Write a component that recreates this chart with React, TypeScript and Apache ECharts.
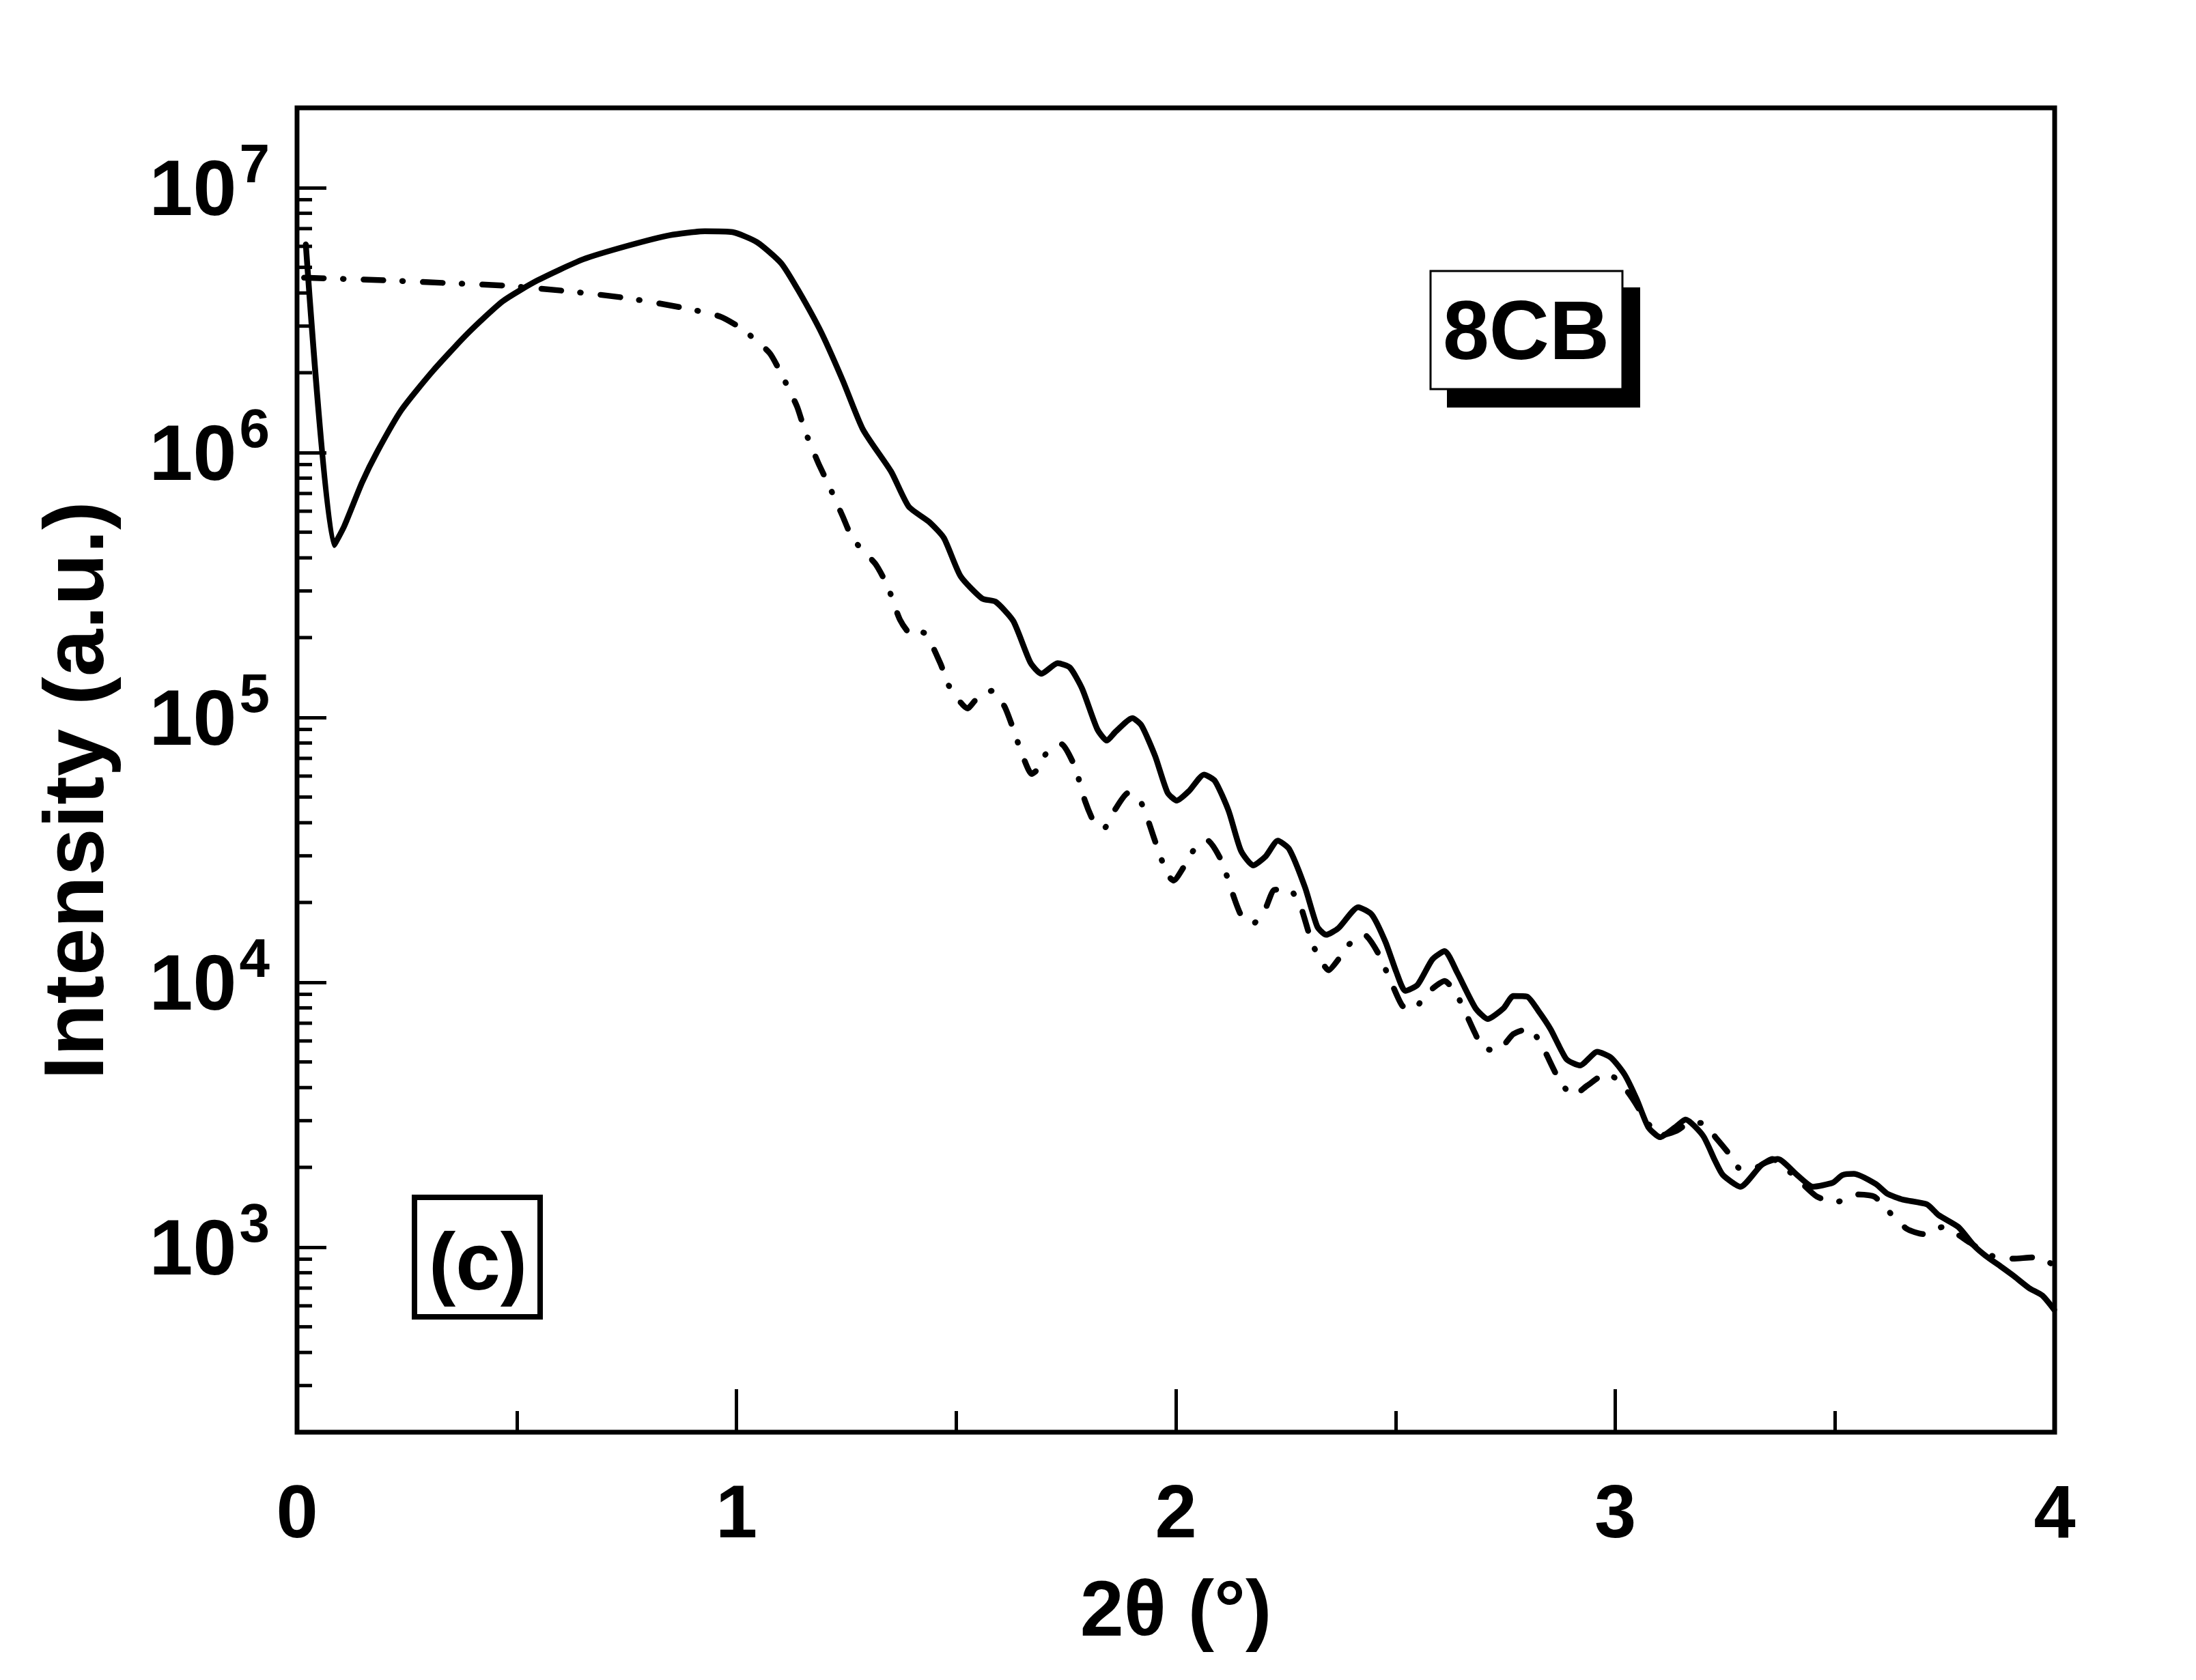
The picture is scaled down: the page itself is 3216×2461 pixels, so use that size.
import React, { useEffect, useRef } from "react";
import * as echarts from "echarts";

// ---- data ----
const solidTwoTheta = [
  0.02, 0.084, 0.107, 0.148, 0.183, 0.238, 0.309, 0.389, 0.468, 0.547, 0.651, 0.754, 0.848, 0.928, 0.991,
  1.047, 1.102, 1.142, 1.193, 1.242, 1.288, 1.352, 1.392, 1.439, 1.472, 1.51, 1.559, 1.59, 1.63, 1.669,
  1.694, 1.731, 1.759, 1.787, 1.821, 1.843, 1.863, 1.901, 1.922, 1.953, 1.981, 2.002, 2.03, 2.064, 2.089,
  2.12, 2.148, 2.176, 2.204, 2.232, 2.258, 2.294, 2.322, 2.342, 2.37, 2.415, 2.446, 2.477, 2.502, 2.522,
  2.55, 2.584, 2.612, 2.64, 2.682, 2.71, 2.746, 2.768, 2.799, 2.825, 2.853, 2.889, 2.92, 2.959, 2.991,
  3.022, 3.049, 3.075, 3.102, 3.137, 3.16, 3.2, 3.227, 3.245, 3.285, 3.334, 3.37, 3.414, 3.45, 3.495,
  3.517, 3.543, 3.593, 3.619, 3.655, 3.709, 3.736, 3.781, 3.817, 3.843, 3.879, 3.906, 3.942, 3.972, 3.999,
];
const solidIntensity = [
  6.1e6, 4.47e5, 5.25e5, 7.7e5, 1.01e6, 1.45e6, 2.03e6, 2.82e6, 3.72e6, 4.46e6, 5.36e6, 6.04e6, 6.61e6, 6.84e6, 6.79e6,
  6.22e6, 5.18e6, 4.06e6, 2.84e6, 1.87e6, 1.22e6, 8.47e5, 6.25e5, 5.46e5, 4.76e5, 3.41e5, 2.81e5, 2.73e5, 2.31e5, 1.61e5,
  1.46e5, 1.6e5, 1.54e5, 1.28e5, 9.04e4, 8.17e4, 8.83e4, 9.93e4, 9.31e4, 7.13e4, 5.2e4, 4.85e4, 5.27e4, 6.08e4, 5.75e4,
  4.44e4, 3.14e4, 2.76e4, 2.98e4, 3.42e4, 3.18e4, 2.28e4, 1.62e4, 1.51e4, 1.6e4, 1.92e4, 1.8e4, 1.42e4, 1.09e4, 9.27e3,
  9.77e3, 1.22e4, 1.31e4, 1.09e4, 7.98e3, 7.26e3, 7.98e3, 8.87e3, 8.83e3, 7.8e3, 6.64e3, 5.12e3, 4.85e3, 5.46e3, 5.18e3,
  4.46e3, 3.61e3, 2.84e3, 2.6e3, 2.84e3, 3.03e3, 2.63e3, 2.12e3, 1.87e3, 1.69e3, 2.05e3, 2.15e3, 1.87e3, 1.69e3, 1.75e3,
  1.87e3, 1.89e3, 1.73e3, 1.59e3, 1.51e3, 1.45e3, 1.32e3, 1.19e3, 1.01e3, 927, 841, 780, 700, 656, 580,
];

const dashTwoTheta = [
  0.016, 0.207, 0.342, 0.476, 0.618, 0.754, 0.889, 0.963, 1.011, 1.075, 1.102, 1.138, 1.155, 1.186, 1.209,
  1.242, 1.265, 1.316, 1.344, 1.372, 1.4, 1.425, 1.464, 1.483, 1.526, 1.546, 1.582, 1.61, 1.63, 1.646,
  1.672, 1.686, 1.706, 1.739, 1.77, 1.793, 1.815, 1.837, 1.86, 1.891, 1.921, 1.953, 1.981, 1.995, 2.019,
  2.04, 2.071, 2.103, 2.134, 2.151, 2.177, 2.204, 2.224, 2.258, 2.283, 2.312, 2.348, 2.37, 2.39, 2.429,
  2.46, 2.494, 2.516, 2.542, 2.57, 2.612, 2.64, 2.681, 2.699, 2.732, 2.768, 2.803, 2.83, 2.873, 2.904,
  2.937, 2.98, 3.009, 3.04, 3.066, 3.1, 3.14, 3.17, 3.2, 3.232, 3.26, 3.285, 3.325, 3.357, 3.405,
  3.459, 3.504, 3.55, 3.59, 3.619, 3.664, 3.7, 3.745, 3.807, 3.85, 3.906, 3.951, 3.986, 4.0,
];
const dashIntensity = [
  4.57e6, 4.46e6, 4.36e6, 4.26e6, 4.06e6, 3.82e6, 3.49e6, 3.26e6, 2.94e6, 2.38e6, 1.98e6, 1.49e6, 1.22e6, 9.14e5, 7.6e5,
  5.73e5, 4.71e5, 3.8e5, 3.13e5, 2.34e5, 2.04e5, 2.09e5, 1.6e5, 1.32e5, 1.08e5, 1.17e5, 1.26e5, 1.1e5, 9.04e4, 7.57e4,
  6.11e4, 6.37e4, 7.35e4, 7.93e4, 6.52e4, 4.85e4, 3.99e4, 3.82e4, 4.44e4, 5.18e4, 4.76e4, 3.4e4, 2.54e4, 2.42e4, 2.74e4,
  3.14e4, 3.44e4, 2.89e4, 2.05e4, 1.76e4, 1.67e4, 1.9e4, 2.23e4, 2.24e4, 1.95e4, 1.38e4, 1.11e4, 1.22e4, 1.37e4, 1.51e4,
  1.29e4, 9.66e3, 8.13e3, 7.93e3, 9.04e3, 1.01e4, 8.93e3, 6.41e3, 5.65e3, 5.52e3, 6.37e3, 6.68e3, 5.9e3, 4.26e3, 3.73e3,
  4.08e3, 4.52e3, 4.23e3, 3.62e3, 3.09e3, 2.63e3, 2.75e3, 2.95e3, 2.93e3, 2.55e3, 2.24e3, 1.97e3, 2.01e3, 2.15e3, 1.87e3,
  1.55e3, 1.48e3, 1.58e3, 1.55e3, 1.38e3, 1.17e3, 1.12e3, 1.19e3, 1.04e3, 933, 904, 914, 877, 851,
];

const xTickValues = [0, 1, 2, 3, 4];
const yDecadeExponents = [3, 4, 5, 6, 7];
const minorDecades = [100, 1000, 10000, 100000, 1000000];
const minorMultipliers = [2, 3, 4, 5, 6, 7, 8, 9];

const FONT = '"Liberation Sans", Arial, Helvetica, sans-serif';

export default function App() {
  const ref = useRef<HTMLDivElement>(null);

  useEffect(() => {
    document.body.style.margin = "0";
    document.body.style.overflow = "hidden";
    if (!ref.current) return;
    const chart = echarts.init(ref.current, undefined, { renderer: "svg" });

    const solidData = solidTwoTheta.map((x, i) => [x, solidIntensity[i]]);
    const dashData = dashTwoTheta.map((x, i) => [x, dashIntensity[i]]);
    const minorTickData: number[][] = [];
    minorDecades.forEach((d) => minorMultipliers.forEach((m) => minorTickData.push([0, d * m])));

    chart.setOption({
      animation: false,
      backgroundColor: "#fff",
      grid: {
        left: 435,
        right: 207,
        top: 158,
        bottom: 363,
        show: true,
        borderColor: "#000",
        borderWidth: 7,
        backgroundColor: "transparent",
      },
      xAxis: {
        type: "value",
        min: xTickValues[0],
        max: xTickValues[xTickValues.length - 1],
        interval: 1,
        axisLine: { show: false },
        splitLine: { show: false },
        axisTick: { show: true, inside: true, length: 63, lineStyle: { color: "#000", width: 5 } },
        minorTick: { show: true, splitNumber: 2, length: 31, lineStyle: { color: "#000", width: 5 } },
        axisLabel: {
          color: "#000",
          fontSize: 110,
          fontWeight: "bold",
          fontFamily: FONT,
          margin: 60,
        },
        name: "2θ (°)",
        nameLocation: "middle",
        nameGap: 200,
        nameTextStyle: { color: "#000", fontSize: 115, fontWeight: "bold", fontFamily: FONT },
      },
      yAxis: {
        type: "log",
        logBase: 10,
        min: 200,
        max: 2e7,
        axisLine: { show: false },
        splitLine: { show: false },
        axisTick: { show: true, inside: true, length: 43, lineStyle: { color: "#000", width: 5 } },
        axisLabel: {
          margin: 40,
          formatter: (v: number) => {
            const e = Math.round(Math.log10(v) * 1000) / 1000;
            if (Number.isInteger(e) && yDecadeExponents.includes(e)) return `{b|10}{s|${e}}`;
            return "";
          },
          rich: {
            b: { fontSize: 115, fontWeight: "bold", fontFamily: FONT, color: "#000", lineHeight: 150 },
            s: {
              fontSize: 80,
              fontWeight: "bold",
              fontFamily: FONT,
              color: "#000",
              lineHeight: 80,
              verticalAlign: "top",
              padding: [0, 0, 0, 4],
            },
          },
        },
        name: "Intensity (a.u.)",
        nameLocation: "middle",
        nameGap: 265,
        nameRotate: 90,
        nameTextStyle: {
          color: "#000",
          fontSize: 125,
          fontWeight: "bold",
          fontFamily: FONT,
          padding: [0, 60, 0, 0],
        },
      },
      series: [
        {
          type: "line",
          name: "solid",
          data: solidData,
          showSymbol: false,
          smooth: 0.2,
          lineStyle: { color: "#000", width: 8.5, cap: "round", join: "round" },
          z: 3,
        },
        {
          type: "line",
          name: "dashdot",
          data: dashData,
          showSymbol: false,
          smooth: 0.2,
          lineStyle: { color: "#000", width: 8.5, type: [29, 28, 1, 29], cap: "round", join: "round" },
          z: 3,
        },
        {
          type: "custom",
          name: "minorTicks",
          data: minorTickData,
          silent: true,
          clip: false,
          z: 4,
          renderItem: (params: any, api: any) => {
            const p = api.coord([api.value(0), api.value(1)]);
            return {
              type: "line",
              shape: { x1: p[0], y1: p[1], x2: p[0] + 22, y2: p[1] },
              style: { stroke: "#000", lineWidth: 5 },
            };
          },
        },
      ],
      graphic: [
        { type: "rect", shape: { x: 2119, y: 421, width: 283, height: 176 }, style: { fill: "#000" }, z: 10 },
        {
          type: "rect",
          shape: { x: 2095, y: 397, width: 281, height: 173 },
          style: { fill: "#fff", stroke: "#000", lineWidth: 3 },
          z: 11,
        },
        {
          type: "text",
          x: 2235,
          y: 484,
          z: 12,
          style: {
            text: "8CB",
            font: `bold 122px ${FONT}`,
            fill: "#000",
            align: "center",
            verticalAlign: "middle",
          },
        },
        {
          type: "rect",
          shape: { x: 607, y: 1754, width: 184, height: 175 },
          style: { fill: "#fff", stroke: "#000", lineWidth: 8 },
          z: 11,
        },
        {
          type: "text",
          x: 700,
          y: 1848,
          z: 12,
          style: {
            text: "(c)",
            font: `bold 118px ${FONT}`,
            fill: "#000",
            align: "center",
            verticalAlign: "middle",
          },
        },
      ],
    });

    return () => chart.dispose();
  }, []);

  return <div ref={ref} style={{ width: 3216, height: 2461 }} />;
}
